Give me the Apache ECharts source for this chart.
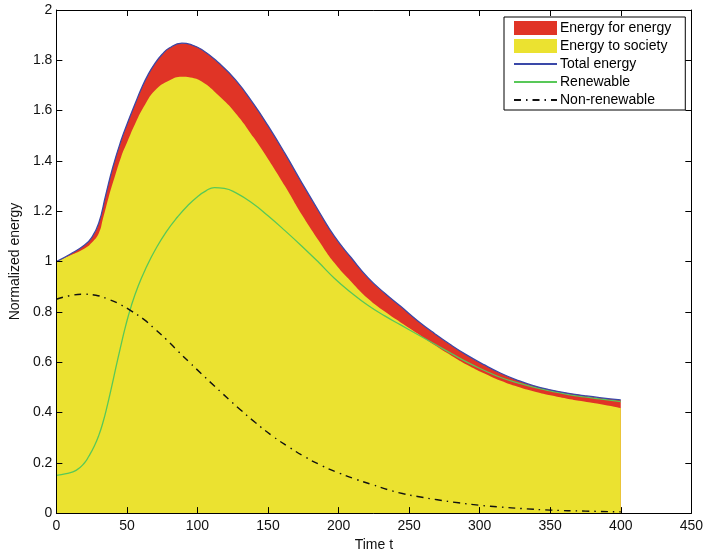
<!DOCTYPE html>
<html>
<head>
<meta charset="utf-8">
<script src="https://cdn.jsdelivr.net/npm/echarts@6/dist/echarts.min.js"></script>
<style>
html,body{margin:0;padding:0;background:#fff;}
#chart{width:706px;height:557px;}
</style>
</head>
<body>
<div id="chart"></div>
<script>
// ---- data ----
const xTicks = [0, 50, 100, 150, 200, 250, 300, 350, 400, 450];
const yTicks = [0, 0.2, 0.4, 0.6, 0.8, 1, 1.2, 1.4, 1.6, 1.8, 2];

const totalT = [0,10,20,25,30,35,40,46,50,56,60,65,70,75,80,89,95,103,115,127,140,150,162,174,186,197,209,221,233,244,256,268,280,291,303,315,327,338,350,362,374,385,400];
const totalE = [1.00,1.030,1.066,1.095,1.152,1.265,1.375,1.484,1.545,1.630,1.685,1.743,1.789,1.824,1.849,1.868,1.863,1.843,1.790,1.722,1.625,1.540,1.430,1.313,1.200,1.101,1.015,0.935,0.873,0.822,0.765,0.714,0.667,0.628,0.590,0.556,0.528,0.507,0.490,0.477,0.467,0.459,0.450];

const societyT = [0,10,20,25,30,33,37,41,46,50,56,63,70,80,89,95,103,115,127,140,150,162,174,186,197,209,221,233,244,256,268,280,291,303,315,327,338,350,362,374,385,400];
const societyE = [1.00,1.025,1.052,1.075,1.112,1.170,1.255,1.330,1.418,1.472,1.550,1.625,1.681,1.720,1.735,1.732,1.716,1.660,1.590,1.492,1.408,1.300,1.186,1.083,0.995,0.920,0.852,0.800,0.758,0.714,0.668,0.626,0.590,0.556,0.526,0.502,0.484,0.468,0.455,0.444,0.434,0.418];

const renewT = [0,7,14,20,23,27,30,33,36,39,42,45,49,53,58,64,70,78,86,93,100,106,112,119,127,139,150,162,174,186,197,209,221,233,244,256,268,280,291,303,315,327,338,350,362,374,385,400];
const renewE = [0.150,0.157,0.170,0.200,0.226,0.268,0.308,0.360,0.425,0.498,0.574,0.648,0.742,0.822,0.903,0.980,1.046,1.119,1.178,1.222,1.258,1.281,1.294,1.291,1.274,1.232,1.182,1.123,1.061,0.996,0.934,0.876,0.825,0.783,0.748,0.710,0.672,0.634,0.600,0.568,0.539,0.518,0.501,0.486,0.472,0.462,0.454,0.443];

const nonRenT = [0,10,20,28,37,45,53,62,70,78,86,94,103,112,118,124,130,141,153,165,176,188,200,212,224,235,246,256,270,285,300,315,330,350,375,400];
const nonRenE = [0.850,0.865,0.870,0.866,0.850,0.830,0.804,0.770,0.731,0.690,0.645,0.601,0.553,0.505,0.474,0.443,0.413,0.360,0.307,0.262,0.224,0.189,0.160,0.135,0.113,0.093,0.077,0.066,0.053,0.041,0.031,0.024,0.018,0.012,0.008,0.005];

const seriesNames = ['Energy for energy', 'Energy to society', 'Total energy', 'Renewable', 'Non-renewable'];

// ---- build ----
const zip = (xs, ys) => xs.map((x, i) => [x, ys[i]]);
const FONT = '"Liberation Sans", Arial, Helvetica, sans-serif';
const RED = '#e03426', YEL = '#ebe230', BLUE = '#3a48a8', GREEN = '#58c858', BLACK = '#111';
const SMOOTH = 0.5;

const chart = echarts.init(document.getElementById('chart'), null, {renderer: 'canvas'});

const xAxisBase = {
  type: 'value', min: xTicks[0], max: xTicks[xTicks.length - 1], interval: xTicks[1] - xTicks[0],
  splitLine: {show: false}, z: 10,
  axisLine: {show: true, onZero: false, lineStyle: {color: '#000', width: 1}},
  axisTick: {show: true, inside: true, length: 6, lineStyle: {color: '#000'}},
};
const yAxisBase = {
  type: 'value', min: yTicks[0], max: yTicks[yTicks.length - 1], interval: yTicks[1] - yTicks[0],
  splitLine: {show: false}, z: 10,
  axisLine: {show: true, onZero: false, lineStyle: {color: '#000', width: 1}},
  axisTick: {show: true, inside: true, length: 6, lineStyle: {color: '#000'}},
};
const hiddenSymbol = {opacity: 0, color: 'transparent', borderWidth: 0};

const option = {
  animation: false,
  backgroundColor: '#fff',
  textStyle: {fontFamily: FONT},
  grid: {left: 52.7, right: 14, top: 10, bottom: 42.7, containLabel: false},
  legend: {
    orient: 'vertical', left: 504, top: 17,
    data: [
      {name: seriesNames[0], icon: 'rect'},
      {name: seriesNames[1], icon: 'rect'},
      {name: seriesNames[2], itemStyle: hiddenSymbol},
      {name: seriesNames[3], itemStyle: hiddenSymbol},
      {name: seriesNames[4], itemStyle: hiddenSymbol},
    ],
    itemWidth: 43, itemHeight: 14, itemGap: 4,
    padding: [4, 14, 3, 9],
    borderColor: '#000', borderWidth: 1, backgroundColor: '#fff',
    selectedMode: false,
    textStyle: {fontFamily: FONT, fontSize: 14, color: '#000', lineHeight: 14, padding: [0, 0, 0, -2]},
  },
  xAxis: [
    Object.assign({}, xAxisBase, {
      position: 'bottom',
      name: 'Time t', nameLocation: 'middle', nameGap: 22,
      nameTextStyle: {fontFamily: FONT, fontSize: 14, color: '#111'},
      axisLabel: {show: true, margin: 6, fontFamily: FONT, fontSize: 14, color: '#111'},
    }),
    Object.assign({}, xAxisBase, {position: 'top', axisLabel: {show: false}}),
  ],
  yAxis: [
    Object.assign({}, yAxisBase, {
      position: 'left',
      name: 'Normalized energy', nameLocation: 'middle', nameGap: 30,
      nameTextStyle: {fontFamily: FONT, fontSize: 14, color: '#111'},
      axisLabel: {show: true, margin: 4, fontFamily: FONT, fontSize: 14, color: '#111'},
    }),
    Object.assign({}, yAxisBase, {position: 'right', axisLabel: {show: false}}),
  ],
  series: [
    {
      name: seriesNames[0], type: 'line', data: zip(totalT, totalE),
      smooth: SMOOTH, symbol: 'none', showSymbol: false, z: 1,
      color: RED, itemStyle: {color: RED},
      lineStyle: {width: 0, color: RED}, areaStyle: {color: RED, opacity: 1},
    },
    {
      name: seriesNames[1], type: 'line', data: zip(societyT, societyE),
      smooth: SMOOTH, symbol: 'none', showSymbol: false, z: 2,
      color: YEL, itemStyle: {color: YEL},
      lineStyle: {width: 0, color: YEL}, areaStyle: {color: YEL, opacity: 1},
    },
    {
      name: seriesNames[2], type: 'line', data: zip(totalT, totalE),
      smooth: SMOOTH, symbol: 'none', showSymbol: false, z: 4,
      color: BLUE, lineStyle: {width: 1.3, color: BLUE},
    },
    {
      name: seriesNames[3], type: 'line', data: zip(renewT, renewE),
      smooth: SMOOTH, symbol: 'none', showSymbol: false, z: 3,
      color: GREEN, lineStyle: {width: 1.3, color: GREEN},
    },
    {
      name: seriesNames[4], type: 'line', data: zip(nonRenT, nonRenE),
      smooth: SMOOTH, symbol: 'none', showSymbol: false, z: 3,
      color: BLACK, lineStyle: {width: 1.4, color: BLACK, type: [7, 5, 1.5, 5]},
    },
  ],
};
chart.setOption(option);
</script>
</body>
</html>
